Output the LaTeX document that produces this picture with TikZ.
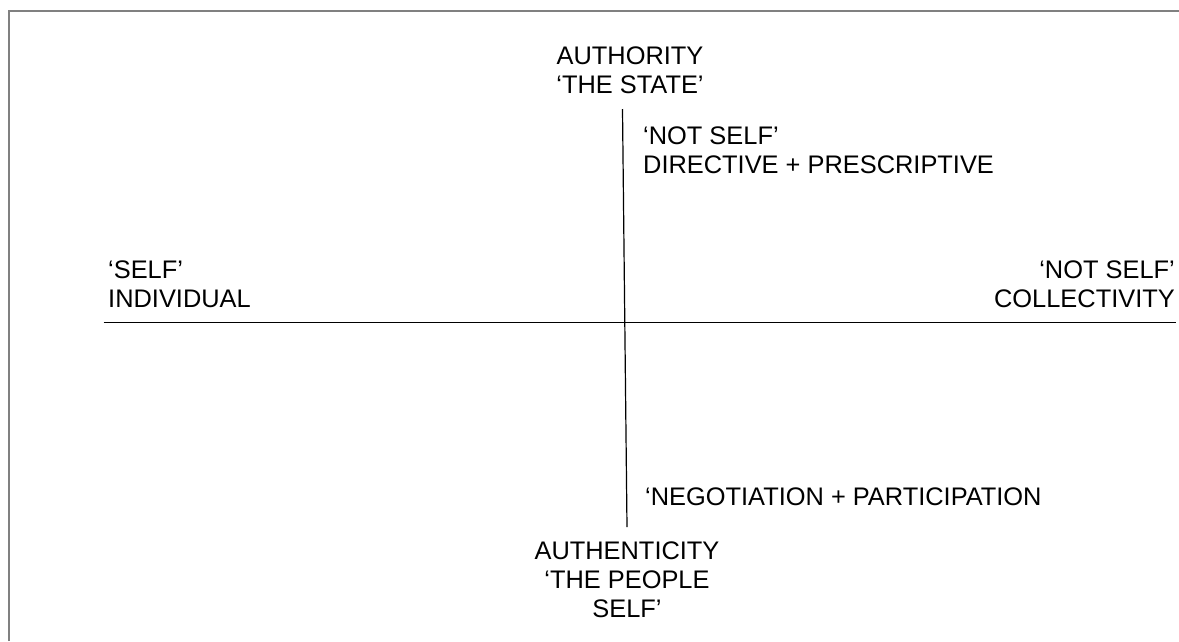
\documentclass[tikz,border=0pt]{standalone}
\usepackage{fontspec}
\setmainfont{Liberation Sans}
\begin{document}
\begin{tikzpicture}[x=1pt,y=-1pt,
  lbl/.style={inner sep=0pt, font=\fontsize{25.4}{29}\selectfont},
  axis/.style={line width=1.2pt, black},
  frame/.style={line width=2.2pt, color=black!50}]
\useasboundingbox (0,0) rectangle (1179,641);
\draw[frame] (9,641) -- (9,11) -- (1179,11);
\coordinate (vtop) at (622.5,109);
\coordinate (vbot) at (627,527);
\coordinate (hl) at (103.5,322.3);
\coordinate (hr) at (1176,322.3);
\draw[axis] (vtop) -- (vbot);
\draw[axis] (hl) -- (hr);
\node[lbl, align=center, anchor=base] (auth) at (630,93) {AUTHORITY\\‘THE STATE’};
\node[lbl, align=left, anchor=base west] (dir) at (643,173) {‘NOT SELF’\\DIRECTIVE + PRESCRIPTIVE};
\node[lbl, align=left, anchor=base west] (self) at (108,307) {‘SELF’\\INDIVIDUAL};
\node[lbl, align=right, anchor=base east] (notself) at (1175,307.5) {‘NOT SELF’\\COLLECTIVITY};
\node[lbl, anchor=base west] (neg) at (645,505.5) {‘NEGOTIATION + PARTICIPATION};
\node[lbl, align=center, anchor=base] (authen) at (627,617.5) {AUTHENTICITY\\‘THE PEOPLE\\SELF’};
\end{tikzpicture}
\end{document}
